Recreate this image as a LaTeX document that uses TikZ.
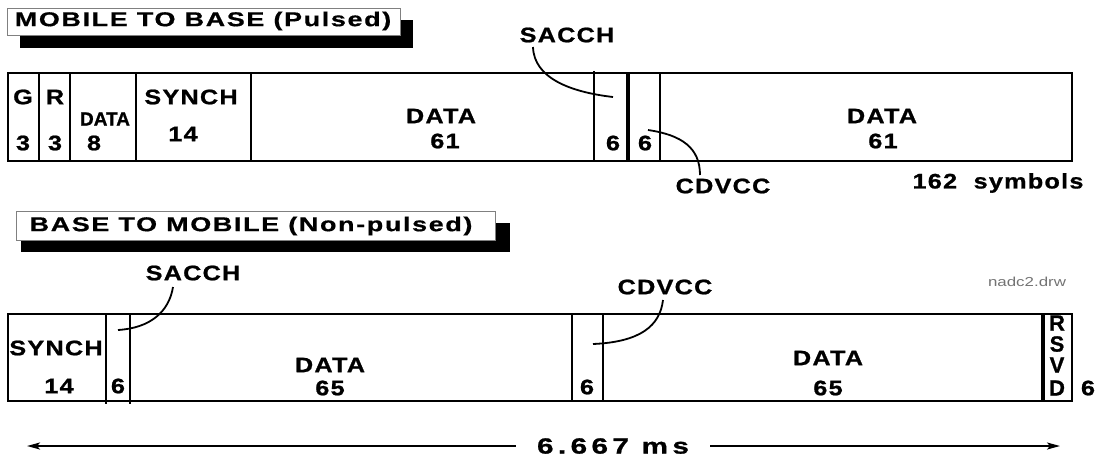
\documentclass[tikz,border=0pt]{standalone}
\usepackage{fontspec}
\usetikzlibrary{arrows.meta}
\setmainfont{Liberation Sans}
\newfontfamily\lblfont{Liberation Sans}[FakeStretch=1.2,LetterSpace=6,FakeBold=1]
\newfontfamily\nrfont{Liberation Sans}[FakeBold=1]
\newfontfamily\ttlfont{Liberation Sans}[FakeStretch=1.35,LetterSpace=8,FakeBold=0.6]
\newfontfamily\msfont{Liberation Sans}[FakeStretch=1.35,LetterSpace=20,FakeBold=1]
\newfontfamily\drwfont{Liberation Sans}[FakeStretch=1.3]
\begin{document}
\begin{tikzpicture}[x=1pt,y=-1pt,
  lbl/.style={inner sep=0pt, font={\lblfont\bfseries\fontsize{21}{23}\selectfont}},
  narrowlbl/.style={inner sep=0pt, font={\nrfont\bfseries\fontsize{19}{21}\selectfont}},
  rsvdlbl/.style={inner sep=0pt, font={\nrfont\bfseries\fontsize{22}{24}\selectfont}},
  ttl/.style={inner sep=0pt, font={\ttlfont\bfseries\fontsize{20}{22}\selectfont}},
  titlebox/.style={draw=gray, line width=0.8pt, fill=white, inner sep=0pt, anchor=north west},
  frameline/.style={line width=2.7pt},
  divline/.style={line width=2pt},
  heavydiv/.style={line width=3.6pt},
  lead/.style={line width=1.8pt},
  dimarrow/.style={line width=2pt, -{Stealth[length=13pt,width=7pt,inset=3pt]}}
]
\useasboundingbox (0,0) rectangle (1097,459);

% ---------- MOBILE TO BASE ----------
\fill (20,20) rectangle (413,48);
\node[titlebox, minimum width=393pt, minimum height=27pt] (t1box) at (7,8) {};
\node[ttl] (t1) at (203,21) {MOBILE TO BASE (Pulsed)};

\draw[frameline] (8,73) rectangle (1072,161);
\draw[divline] (39,73) -- (39,161);
\draw[divline] (70,73) -- (70,161);
\draw[divline] (136,73) -- (136,161);
\draw[divline] (251,73) -- (251,161);
\draw[divline] (594,71) -- (594,161);
\draw[heavydiv] (628,73) -- (628,161);
\draw[divline] (660,73) -- (660,161);

\node[lbl] (g) at (23,97) {G};
\node[lbl] (g3) at (23,143) {3};
\node[lbl] (r) at (55,97) {R};
\node[lbl] (r3) at (55,143) {3};
\node[narrowlbl] (d8) at (105,119) {DATA};
\node[lbl] (d8n) at (94,143) {8};
\node[lbl] (sy1) at (191,97) {SYNCH};
\node[lbl] (sy1n) at (183,134) {14};
\node[lbl] (da1) at (441,116) {DATA};
\node[lbl] (da1n) at (445,141) {61};
\node[lbl] (sa1n) at (613,143) {6};
\node[lbl] (cd1n) at (645,143) {6};
\node[lbl] (da2) at (882,116) {DATA};
\node[lbl] (da2n) at (883,141) {61};

\node[lbl] (sacch1) at (567,35) {SACCH};
\node[lbl] (cdvcc1) at (723,186) {CDVCC};
\node[lbl] (sym) at (998,183) {162\ \ symbols};

\coordinate (s1a) at (533,47);
\coordinate (s1b) at (613,97);
\draw[lead] (s1a) .. controls (534,78) and (570,92) .. (s1b);
\coordinate (c1a) at (648,130);
\coordinate (c1b) at (700,175);
\draw[lead] (c1a) .. controls (682,135) and (700,148) .. (c1b);

% ---------- BASE TO MOBILE ----------
\fill (21,223) rectangle (510,252);
\node[titlebox, minimum width=479pt, minimum height=29pt] (t2box) at (16,211) {};
\node[ttl] (t2) at (251,226) {BASE TO MOBILE (Non-pulsed)};

\node[inner sep=0pt, text=black!55, font={\drwfont\fontsize{13}{15}\selectfont}] (drw) at (1027,282) {nadc2.drw};

\draw[frameline] (8,314) rectangle (1072,401);
\draw[divline] (106,314) -- (106,404);
\draw[divline] (130,314) -- (130,404);
\draw[divline] (572,314) -- (572,401);
\draw[divline] (603,314) -- (603,401);
\draw[heavydiv] (1043,314) -- (1043,401);

\node[lbl] (sy2) at (56,348) {SYNCH};
\node[lbl] (sy2n) at (59,386) {14};
\node[lbl] (sa2n) at (118,386) {6};
\node[lbl] (da3) at (330,365) {DATA};
\node[lbl] (da3n) at (330,388) {65};
\node[lbl] (cd2n) at (587,387) {6};
\node[lbl] (da4) at (828,358) {DATA};
\node[lbl] (da4n) at (828,388) {65};
\node[rsvdlbl] (rr) at (1057,323) {R};
\node[rsvdlbl] (rs) at (1057,344) {S};
\node[rsvdlbl] (rv) at (1057,365) {V};
\node[rsvdlbl] (rd) at (1057,388) {D};
\node[lbl] (rsn) at (1088,388) {6};

\node[lbl] (sacch2) at (193,273) {SACCH};
\node[lbl] (cdvcc2) at (665,287) {CDVCC};

\coordinate (s2a) at (173,287);
\coordinate (s2b) at (118,330);
\draw[lead] (s2a) .. controls (169,312) and (150,328) .. (s2b);
\coordinate (c2a) at (663,300);
\coordinate (c2b) at (593,344);
\draw[lead] (c2a) .. controls (660,326) and (640,342) .. (c2b);

% ---------- dimension ----------
\node[inner sep=0pt, inner xsep=21pt, font={\msfont\bfseries\fontsize{22}{24}\selectfont}] (ms) at (613,446) {6.667 ms};
\coordinate (aL) at (27,446);
\coordinate (aR) at (1060,446);
\draw[dimarrow] (ms.west) -- (aL);
\draw[dimarrow] (ms.east) -- (aR);
\end{tikzpicture}
\end{document}
